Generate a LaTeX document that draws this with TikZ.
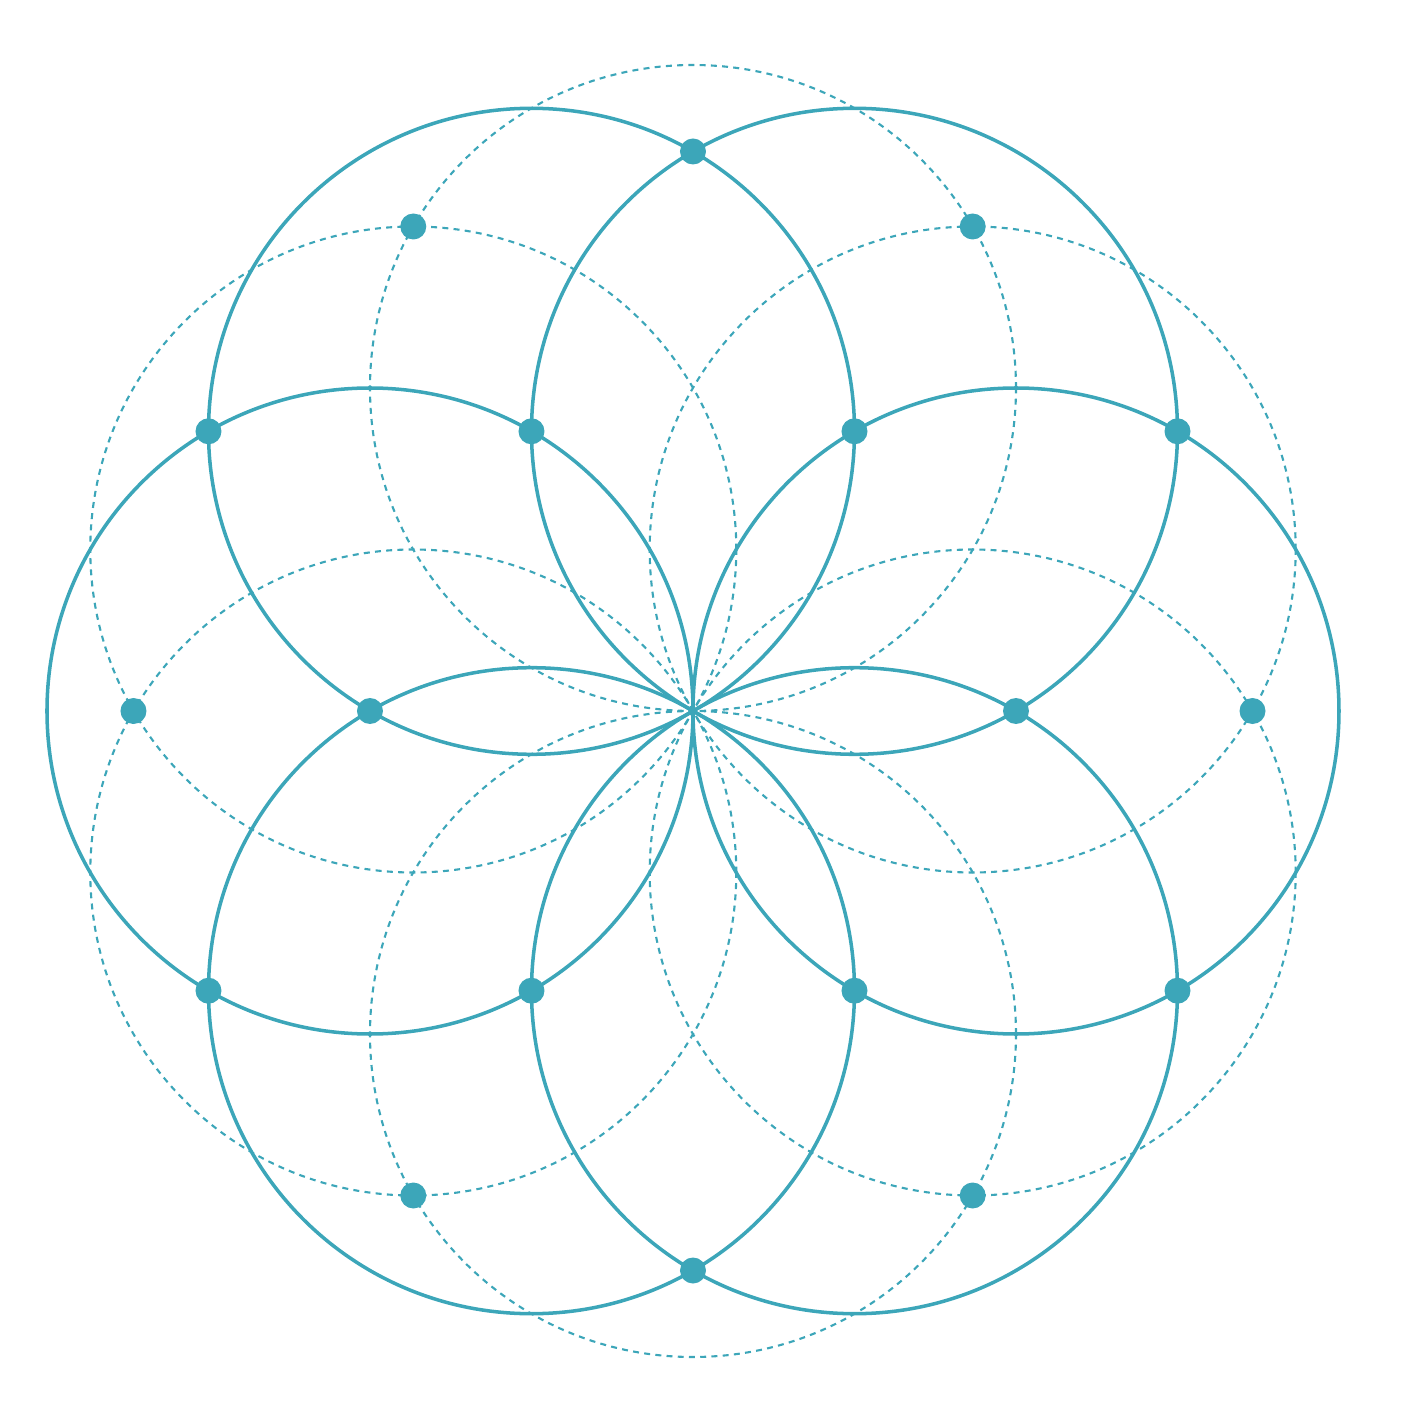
\documentclass[tikz,border=0pt]{standalone}
\usepackage{tikz}
\definecolor{seedteal}{HTML}{3CA6B9}

\begin{document}
\begin{tikzpicture}
		%%%%% START %%%%%
		\useasboundingbox (-6.93, -7.03) rectangle (7.21, 7.11);
		
		% dashed circles
		\draw[seedteal, line width=0.6pt, dash pattern=on 1.7pt off 1.5pt] (2.797, 1.615) circle (3.23);
		\draw[seedteal, line width=0.6pt, dash pattern=on 1.7pt off 1.5pt] (0, 3.23) circle (3.23);
		\draw[seedteal, line width=0.6pt, dash pattern=on 1.7pt off 1.5pt] (-2.797, 1.615) circle (3.23);
		\draw[seedteal, line width=0.6pt, dash pattern=on 1.7pt off 1.5pt] (-2.797, -1.615) circle (3.23);
		\draw[seedteal, line width=0.6pt, dash pattern=on 1.7pt off 1.5pt] (0, -3.23) circle (3.23);
		\draw[seedteal, line width=0.6pt, dash pattern=on 1.7pt off 1.5pt] (2.797, -1.615) circle (3.23);
		
		% solid circles
		\draw[seedteal, line width=1pt] (3.23, 0) circle (3.23);
		\draw[seedteal, line width=1pt] (1.615, 2.797) circle (3.23);
		\draw[seedteal, line width=1pt] (-1.615, 2.797) circle (3.23);
		\draw[seedteal, line width=1pt] (-3.23, 0) circle (3.23);
		\draw[seedteal, line width=1pt] (-1.615, -2.797) circle (3.23);
		\draw[seedteal, line width=1pt] (1.615, -2.797) circle (3.23);
		
		% dots
		\fill[seedteal] (3.23, 0) circle (0.13);
		\fill[seedteal] (1.615, 2.797) circle (0.13);
		\fill[seedteal] (-1.615, 2.797) circle (0.13);
		\fill[seedteal] (-3.23, 0) circle (0.13);
		\fill[seedteal] (-1.615, -2.797) circle (0.13);
		\fill[seedteal] (1.615, -2.797) circle (0.13);
		
		\fill[seedteal] (4.845, 2.797) circle (0.13);
		\fill[seedteal] (0, 5.595) circle (0.13);
		\fill[seedteal] (-4.845, 2.797) circle (0.13);
		\fill[seedteal] (-4.845, -2.797) circle (0.13);
		\fill[seedteal] (0, -5.595) circle (0.13);
		\fill[seedteal] (4.845, -2.797) circle (0.13);
		
		\fill[seedteal] (5.595, 0) circle (0.13);
		\fill[seedteal] (2.797, 4.845) circle (0.13);
		\fill[seedteal] (-2.797, 4.845) circle (0.13);
		\fill[seedteal] (-5.595, 0) circle (0.13);
		\fill[seedteal] (-2.797, -4.845) circle (0.13);
		\fill[seedteal] (2.797, -4.845) circle (0.13);
		%%%%% END %%%%%
	\end{tikzpicture}
\end{document}
